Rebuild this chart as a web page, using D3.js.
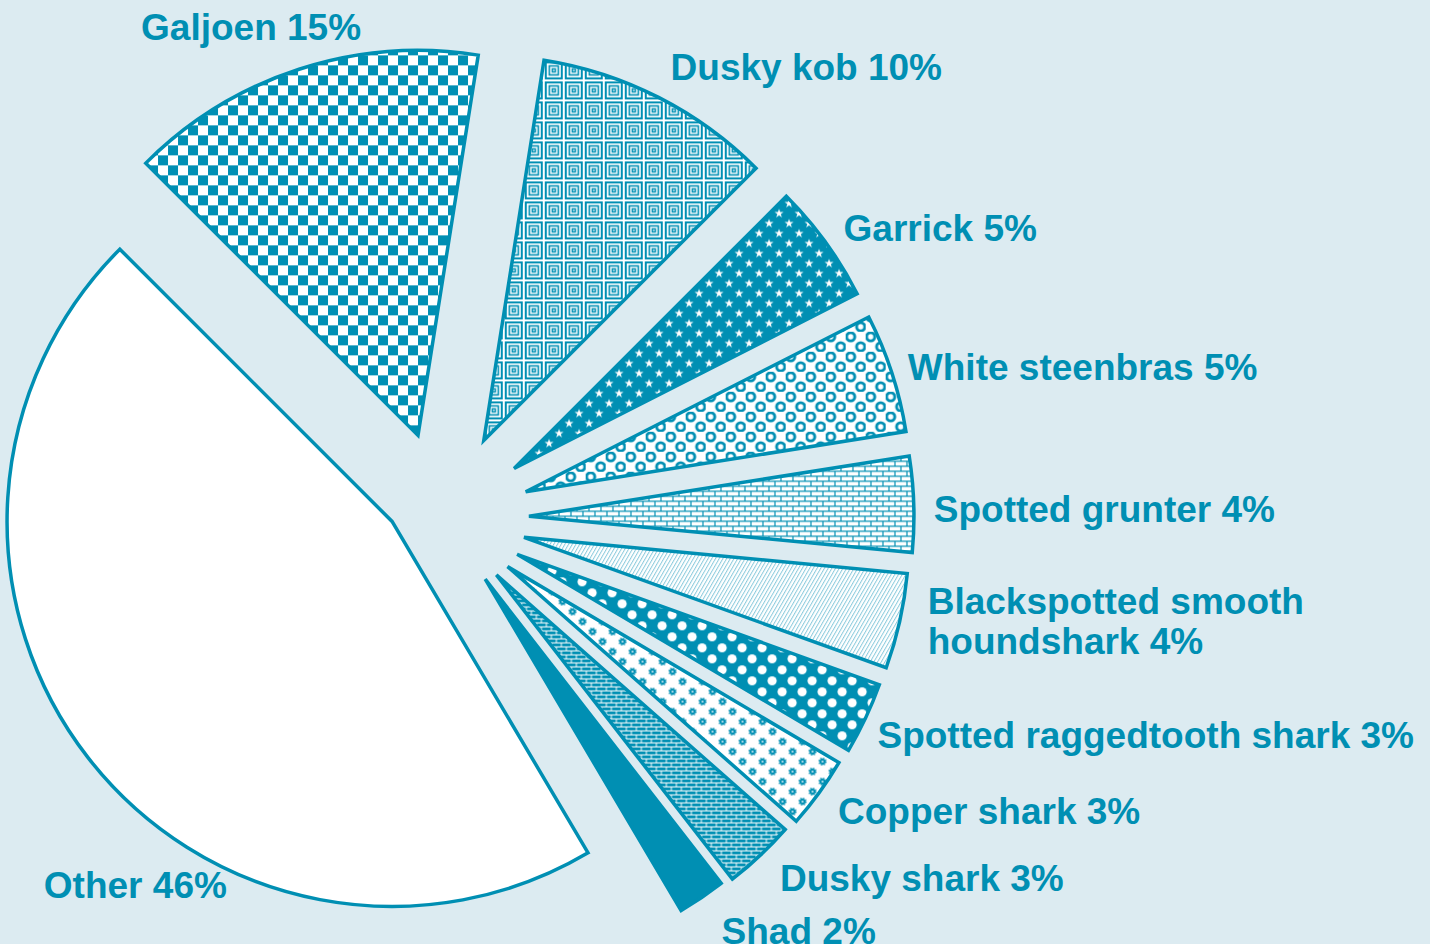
<!DOCTYPE html>
<html>
<head>
<meta charset="utf-8">
<script src="https://cdn.jsdelivr.net/npm/d3@7"></script>
<style>
html, body { margin: 0; padding: 0; background: #dcebf1; }
svg { display: block; }
</style>
</head>
<body>
<div id="chart"></div>
<script>
// catch composition, percent
var species = ["Galjoen", "Dusky kob", "Garrick", "White steenbras", "Spotted grunter",
    "Blackspotted smooth houndshark", "Spotted raggedtooth shark", "Copper shark",
    "Dusky shark", "Shad", "Other"]
var share = [15, 10, 5, 5, 4, 4, 3, 3, 3, 2, 46]
var labelLines = [
    ["Galjoen 15%"], ["Dusky kob 10%"], ["Garrick 5%"], ["White steenbras 5%"],
    ["Spotted grunter 4%"], ["Blackspotted smooth", "houndshark 4%"],
    ["Spotted raggedtooth shark 3%"], ["Copper shark 3%"], ["Dusky shark 3%"],
    ["Shad 2%"], ["Other 46%"]
]

// layout
var width = 1430, height = 944
var cx = 442, cy = 519, radius = 385
var teal = "#008fb3"
var fills = ["checker", "squares", "stars", "rings", "bricksW", "hatch", "dots", "gears", "bricksT", "solid", "white"]
// how far each slice is pulled out (px) and any turn off its bisector (deg)
var explode = [87, 89, 88, 88, 87, 84, 83, 81, 78, 74, 50]
var turn = [2, 1, 1, 0, 0, 0, 0, 0, -1, -1.5, 35]
// label nudge from the slice's outer point, to text start / first baseline
var nudge = [[-158, -29], [12, -17], [18, -1], [16, 7], [20, 18], [28, -7],
    [12, 30], [19, 31], [20, 35], [20, 46], [-44, 141]]

var svg = d3.select("#chart").append("svg")
    .attr("width", width)
    .attr("height", height)

svg.append("rect").attr("width", width).attr("height", height).attr("fill", "#dcebf1")

// fill patterns
var defs = svg.append("defs")
function pattern(id, w, h) {
    return defs.append("pattern").attr("id", id)
        .attr("patternUnits", "userSpaceOnUse")
        .attr("width", w).attr("height", h)
}

var p = pattern("checker", 20, 20)
p.append("rect").attr("width", 20).attr("height", 20).attr("fill", "#fff")
p.append("rect").attr("width", 10).attr("height", 10).attr("fill", teal)
p.append("rect").attr("x", 10).attr("y", 10).attr("width", 10).attr("height", 10).attr("fill", teal)

p = pattern("squares", 20, 20)
p.append("rect").attr("width", 20).attr("height", 20).attr("fill", "#fff")
;[[2, 16, 2], [5.5, 9, 1.6], [8.5, 3, 1.5]].forEach(function (s) {
    p.append("rect").attr("x", s[0]).attr("y", s[0]).attr("width", s[1]).attr("height", s[1])
        .attr("fill", "none").attr("stroke", teal).attr("stroke-width", s[2])
})

p = pattern("stars", 20, 20)
p.append("rect").attr("width", 20).attr("height", 20).attr("fill", teal)
var star = d3.symbol(d3.symbolStar).size(26)()
;[[5, 5], [15, 15]].forEach(function (c) {
    p.append("path").attr("d", star).attr("fill", "#fff").attr("transform", "translate(" + c + ")")
})

p = pattern("rings", 20, 20)
p.append("rect").attr("width", 20).attr("height", 20).attr("fill", "#fff")
;[[5, 5], [15, 15]].forEach(function (c) {
    p.append("circle").attr("cx", c[0]).attr("cy", c[1]).attr("r", 4.1)
        .attr("fill", "none").attr("stroke", teal).attr("stroke-width", 2.9)
})

p = pattern("bricksW", 12, 10)
p.append("rect").attr("width", 12).attr("height", 10).attr("fill", teal)
;[[0.6, 0.6], [6.6, 5.6], [-5.4, 5.6]].forEach(function (b) {
    p.append("rect").attr("x", b[0]).attr("y", b[1]).attr("width", 10.8).attr("height", 3.8).attr("fill", "#fff")
})

p = pattern("hatch", 3.2, 10).attr("patternTransform", "rotate(30)")
p.append("rect").attr("width", 3.2).attr("height", 10).attr("fill", "#fff")
p.append("rect").attr("width", 1).attr("height", 10).attr("fill", "#8ccbdd")

p = pattern("dots", 20, 22)
p.append("rect").attr("width", 20).attr("height", 22).attr("fill", teal)
;[[5, 5.5], [15, 16.5]].forEach(function (c) {
    p.append("circle").attr("cx", c[0]).attr("cy", c[1]).attr("r", 4.6).attr("fill", "#fff")
})

p = pattern("gears", 20, 20)
p.append("rect").attr("width", 20).attr("height", 20).attr("fill", "#fff")
;[[5, 5], [15, 15]].forEach(function (c) {
    p.append("circle").attr("cx", c[0]).attr("cy", c[1]).attr("r", 3)
        .attr("fill", teal).attr("stroke", teal).attr("stroke-width", 2.2)
        .attr("stroke-dasharray", "1.2 1.16")
    p.append("circle").attr("cx", c[0]).attr("cy", c[1]).attr("r", 0.9).attr("fill", "#fff")
})

p = pattern("bricksT", 10, 8)
p.append("rect").attr("width", 10).attr("height", 8).attr("fill", "#fff")
;[[0.5, 0.5], [5.5, 4.5], [-4.5, 4.5]].forEach(function (b) {
    p.append("rect").attr("x", b[0]).attr("y", b[1]).attr("width", 9).attr("height", 3).attr("fill", teal)
})

function fillOf(name) {
    if (name == "solid") return teal
    if (name == "white") return "#fff"
    return "url(#" + name + ")"
}

// pie
var pie = d3.pie().value(function (d) { return d }).sort(null)
    .startAngle(-45 * Math.PI / 180)
    .endAngle(315 * Math.PI / 180)

var arc = d3.arc().innerRadius(0).outerRadius(radius)

var slices = pie(share)

var g = svg.selectAll(".slice")
    .data(slices)
    .enter().append("g")
    .attr("class", "slice")
    .attr("transform", function (d, i) {
        var mid = (d.startAngle + d.endAngle) / 2 + turn[i] * Math.PI / 180
        d.tx = cx + explode[i] * Math.sin(mid)
        d.ty = cy - explode[i] * Math.cos(mid)
        return "translate(" + d.tx + "," + d.ty + ")"
    })

g.append("path")
    .attr("d", arc)
    .attr("fill", function (d, i) { return fillOf(fills[i]) })
    .attr("stroke", teal)
    .attr("stroke-width", 3.5)
    .attr("stroke-linejoin", "miter")

// labels
svg.selectAll(".label")
    .data(slices)
    .enter().append("text")
    .attr("class", "label")
    .attr("font-family", "'Liberation Sans', Arial, sans-serif")
    .attr("font-weight", "bold")
    .attr("font-size", 37)
    .attr("fill", teal)
    .each(function (d, i) {
        var mid = (d.startAngle + d.endAngle) / 2
        var x = d.tx + radius * Math.sin(mid) + nudge[i][0]
        var y = d.ty - radius * Math.cos(mid) + nudge[i][1]
        var t = d3.select(this)
        labelLines[i].forEach(function (line, k) {
            t.append("tspan").attr("x", x).attr("y", y + k * 40).text(line)
        })
    })
</script>
</body>
</html>
